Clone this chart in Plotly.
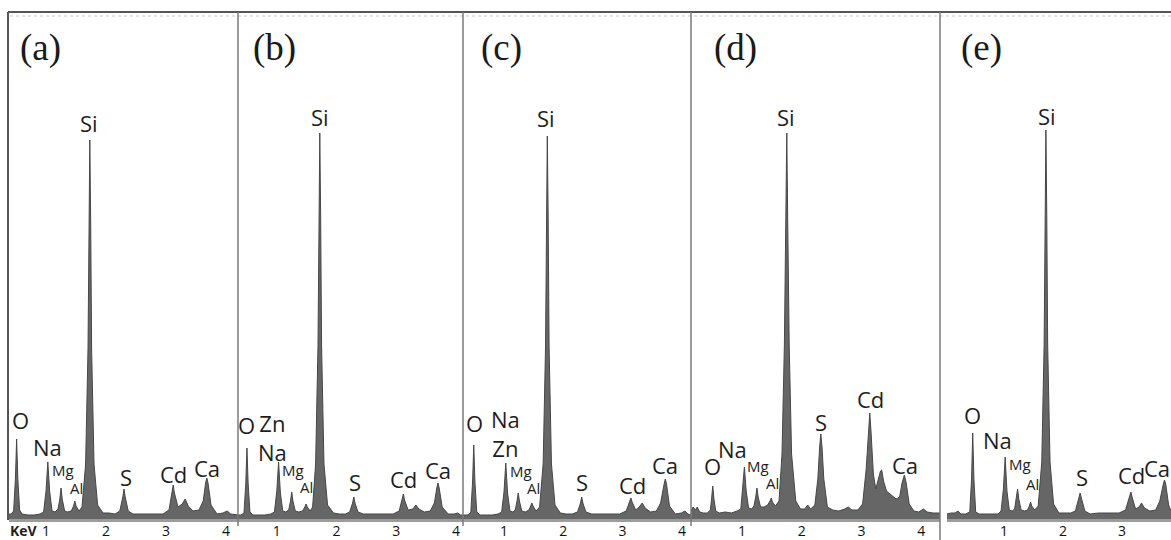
import plotly.graph_objects as go

W, H = 1171, 540

# ---- EDX spectra: energy (keV) and counts (a.u.) for samples (a)-(e) ----
energy_a = [0.383, 0.42, 0.46, 0.49, 0.51, 0.53, 0.56, 0.60, 0.70, 0.80, 0.90, 0.96, 1.00, 1.03, 1.06,
            1.10, 1.15, 1.20, 1.23, 1.25, 1.27, 1.31, 1.36, 1.42, 1.46, 1.48, 1.50, 1.55, 1.60, 1.66,
            1.70, 1.715, 1.73, 1.745, 1.76, 1.80, 1.86, 1.95, 2.05, 2.15, 2.23, 2.28, 2.30, 2.32, 2.37,
            2.45, 2.60, 2.80, 2.95, 3.05, 3.10, 3.12, 3.14, 3.20, 3.27, 3.32, 3.37, 3.45, 3.55, 3.62,
            3.66, 3.68, 3.70, 3.75, 3.85, 3.95, 4.02, 4.08, 4.20]
counts_a = [5, 5, 8, 40, 80, 40, 9, 5, 4, 4, 5, 7, 28, 57, 28,
            8, 7, 10, 20, 31, 20, 8, 7, 8, 13, 18, 13, 8, 12, 55,
            170, 295, 379, 295, 170, 55, 14, 6, 6, 5, 8, 22, 30, 22, 8,
            5, 5, 5, 5, 9, 26, 34, 26, 12, 15, 20, 13, 8, 9, 18,
            36, 41, 36, 14, 5, 6, 8, 5, 4]

energy_b = [0.35, 0.40, 0.45, 0.48, 0.50, 0.52, 0.55, 0.60, 0.70, 0.80, 0.90, 0.96, 1.00, 1.03, 1.06,
            1.10, 1.15, 1.20, 1.23, 1.25, 1.27, 1.31, 1.37, 1.43, 1.47, 1.49, 1.51, 1.56, 1.60, 1.65,
            1.69, 1.705, 1.72, 1.735, 1.75, 1.79, 1.85, 1.95, 2.05, 2.15, 2.22, 2.27, 2.29, 2.31, 2.36,
            2.45, 2.60, 2.80, 2.95, 3.05, 3.10, 3.12, 3.14, 3.20, 3.28, 3.33, 3.38, 3.47, 3.57, 3.64,
            3.68, 3.70, 3.72, 3.77, 3.87, 3.97, 4.03, 4.08, 4.12]
counts_b = [4, 4, 6, 35, 71, 35, 7, 4, 4, 4, 5, 7, 28, 57, 26,
            8, 7, 9, 18, 27, 18, 8, 7, 8, 12, 15, 12, 8, 12, 55,
            173, 300, 386, 300, 173, 55, 14, 6, 5, 5, 7, 16, 22, 16, 7,
            5, 5, 5, 5, 8, 19, 25, 19, 9, 10, 14, 10, 7, 8, 16,
            31, 36, 31, 12, 5, 5, 6, 4, 4]

energy_c = [0.31, 0.38, 0.44, 0.47, 0.49, 0.51, 0.54, 0.60, 0.70, 0.80, 0.90, 0.96, 1.00, 1.03, 1.06,
            1.10, 1.15, 1.19, 1.22, 1.24, 1.26, 1.30, 1.36, 1.42, 1.45, 1.47, 1.49, 1.54, 1.60, 1.66,
            1.70, 1.715, 1.73, 1.745, 1.76, 1.80, 1.86, 1.95, 2.05, 2.15, 2.24, 2.29, 2.31, 2.33, 2.38,
            2.48, 2.60, 2.80, 2.95, 3.06, 3.12, 3.14, 3.16, 3.22, 3.28, 3.33, 3.38, 3.47, 3.57, 3.64,
            3.70, 3.72, 3.74, 3.79, 3.89, 3.99, 4.05, 4.10, 4.16]
counts_c = [4, 4, 6, 37, 74, 37, 7, 4, 4, 4, 5, 7, 27, 56, 26,
            8, 7, 9, 18, 26, 18, 8, 7, 9, 13, 16, 13, 8, 12, 55,
            172, 298, 383, 298, 172, 55, 14, 6, 5, 5, 7, 16, 22, 16, 7,
            5, 5, 5, 5, 8, 17, 21, 17, 9, 12, 16, 11, 7, 8, 16,
            35, 40, 35, 13, 5, 6, 8, 5, 4]

energy_d = [0.146, 0.18, 0.22, 0.25, 0.29, 0.35, 0.42, 0.47, 0.49, 0.51, 0.53, 0.56, 0.62, 0.72, 0.82,
            0.92, 0.98, 1.01, 1.04, 1.07, 1.11, 1.16, 1.20, 1.23, 1.25, 1.27, 1.31, 1.37, 1.43, 1.47,
            1.49, 1.51, 1.56, 1.62, 1.67, 1.71, 1.735, 1.75, 1.765, 1.79, 1.83, 1.90, 1.98, 2.05, 2.10,
            2.15, 2.22, 2.27, 2.30, 2.32, 2.34, 2.37, 2.43, 2.52, 2.62, 2.72, 2.78, 2.84, 2.94, 3.02,
            3.08, 3.12, 3.14, 3.16, 3.20, 3.24, 3.28, 3.32, 3.34, 3.37, 3.42, 3.50, 3.58, 3.64, 3.68,
            3.72, 3.75, 3.80, 3.88, 3.96, 4.04, 4.10, 4.20, 4.32]
counts_d = [8, 12, 9, 12, 7, 6, 6, 9, 20, 33, 20, 8, 6, 7, 6,
            8, 10, 30, 52, 28, 11, 10, 13, 22, 31, 22, 12, 12, 14, 18,
            21, 17, 13, 18, 65, 175, 300, 386, 300, 175, 65, 18, 10, 10, 14,
            10, 14, 40, 72, 85, 72, 40, 12, 9, 8, 10, 12, 9, 9, 15,
            50, 88, 106, 88, 45, 30, 38, 48, 49, 38, 28, 24, 20, 22, 36,
            44, 36, 15, 8, 7, 10, 7, 6, 6]

energy_e = [0.034, 0.10, 0.17, 0.22, 0.27, 0.35, 0.42, 0.45, 0.47, 0.49, 0.52, 0.58, 0.70, 0.80, 0.90,
            0.95, 0.99, 1.02, 1.05, 1.09, 1.14, 1.18, 1.21, 1.23, 1.25, 1.29, 1.35, 1.40, 1.43, 1.45,
            1.47, 1.52, 1.58, 1.64, 1.68, 1.695, 1.71, 1.725, 1.74, 1.78, 1.84, 1.93, 2.03, 2.13, 2.21,
            2.26, 2.29, 2.32, 2.37, 2.46, 2.60, 2.80, 2.95, 3.06, 3.12, 3.15, 3.18, 3.23, 3.29, 3.33,
            3.38, 3.47, 3.57, 3.64, 3.70, 3.72, 3.74, 3.79, 3.83]
counts_e = [5, 6, 6, 8, 5, 5, 7, 40, 86, 40, 7, 5, 5, 5, 5,
            8, 30, 62, 28, 9, 8, 10, 20, 30, 20, 9, 8, 9, 13, 17,
            13, 9, 13, 57, 175, 302, 389, 302, 175, 57, 15, 6, 6, 6, 8,
            19, 26, 19, 8, 5, 6, 6, 6, 9, 21, 27, 20, 10, 12, 16,
            11, 8, 9, 18, 35, 39, 35, 14, 8]

# ---- peak labels: (text, energy keV, counts); stacked names share one label ----
labels_a = [("O", 0.567, 99), ("Na", 1.017, 72), ("Mg", 1.283, 49), ("Al", 1.50, 31),
            ("Si", 1.715, 396), ("S", 2.333, 42), ("Cd", 3.117, 45), ("Ca", 3.683, 51)]
labels_b = [("O", 0.497, 94), ("Zn<br>Na", 0.933, 82), ("Mg", 1.268, 49),
            ("Al", 1.503, 32), ("Si", 1.72, 402), ("S", 2.307, 37), ("Cd", 3.127, 40), ("Ca", 3.697, 49)]
labels_c = [("O", 0.511, 96), ("Na<br>Zn", 1.017, 86), ("Mg", 1.29, 48),
            ("Al", 1.489, 31), ("Si", 1.708, 401), ("S", 2.315, 37), ("Cd", 3.159, 34), ("Ca", 3.715, 54)]
labels_d = [("O", 0.514, 53), ("Na", 0.849, 70), ("Mg", 1.268, 53), ("Al", 1.503, 36),
            ("Si", 1.737, 402), ("S", 2.323, 97), ("Cd", 3.144, 120), ("Ca", 3.73, 54)]
labels_e = [("O", 0.458, 104), ("Na", 0.898, 79), ("Mg", 1.271, 55), ("Al", 1.475, 35),
            ("Si", 1.729, 403), ("S", 2.322, 42), ("Cd", 3.169, 44), ("Ca", 3.593, 51)]

panel_names = ["(a)", "(b)", "(c)", "(d)", "(e)"]
tick_values = [[1, 2, 3, 4], [1, 2, 3, 4], [1, 2, 3, 4], [1, 2, 3, 4], [1, 2, 3]]

# ---- layout geometry (pixels) ----
panel_px = [(9, 238), (238, 463), (463, 691), (691, 940), (947, 1171)]
energy_ranges = [(0.383, 4.20), (0.35, 4.119), (0.3086, 4.153), (0.1457, 4.316), (0.034, 3.83)]
title_px = [(40, 48), (274, 48), (501, 48), (735, 48), (981, 48)]
axis_py, top_py = 519, 12


def fx(px):
    return px / W


def fy(py):
    return 1 - py / H


spectra = [(energy_a, counts_a), (energy_b, counts_b), (energy_c, counts_c),
           (energy_d, counts_d), (energy_e, counts_e)]
labels = [labels_a, labels_b, labels_c, labels_d, labels_e]

FILL = "#666666"
LINE = "#474747"
SANS = "Open Sans, Noto Sans, sans-serif"
SERIF = "Liberation Serif, Times New Roman, serif"

fig = go.Figure()
annotations = []
layout_axes = {}

for i, (energy, counts) in enumerate(spectra):
    n = "" if i == 0 else str(i + 1)
    fig.add_trace(go.Scatter(
        x=energy, y=counts, mode="lines", fill="tozeroy",
        fillcolor=FILL, line=dict(color=LINE, width=1),
        xaxis="x" + n, yaxis="y" + n, showlegend=False, hoverinfo="x+y"))

    x0, x1 = panel_px[i]
    layout_axes["xaxis" + n] = dict(
        domain=[fx(x0), fx(x1)], range=list(energy_ranges[i]), anchor="y" + n,
        showgrid=False, zeroline=False, showline=True, linecolor="#9c9c9c", linewidth=3,
        tickvals=tick_values[i], ticktext=[str(v) for v in tick_values[i]],
        ticks="", ticklabelstandoff=-3,
        tickfont=dict(family=SANS, size=14, color="#111111"),
        automargin=False, fixedrange=True)
    layout_axes["yaxis" + n] = dict(
        domain=[fy(axis_py), fy(top_py)], range=[0, axis_py - top_py], anchor="x" + n,
        visible=False, fixedrange=True)

    for text, e, c in labels[i]:
        small = text in ("Mg", "Al")
        annotations.append(dict(
            x=e, y=c, xref="x" + n, yref="y" + n, text=text, showarrow=False,
            xanchor="center", yanchor="middle",
            font=dict(family=SANS, size=15 if small else 22, color="#1e1e1e")))

    tx, ty = title_px[i]
    annotations.append(dict(
        x=fx(tx), y=fy(ty), xref="paper", yref="paper", text=panel_names[i],
        showarrow=False, xanchor="center", yanchor="middle",
        font=dict(family=SERIF, size=37, color="#1a1a1a")))

annotations.append(dict(
    x=fx(24), y=fy(530), xref="paper", yref="paper", text="<b>KeV</b>", showarrow=False,
    xanchor="center", yanchor="middle", font=dict(family=SANS, size=14, color="#1e1e1e")))

# frame: top border, faint dotted inner line, left border, panel dividers
shapes = [
    dict(type="line", xref="paper", yref="paper", x0=fx(8), x1=1, y0=fy(12), y1=fy(12),
         line=dict(color="#555555", width=2)),
    dict(type="line", xref="paper", yref="paper", x0=fx(10), x1=1, y0=fy(16), y1=fy(16),
         line=dict(color="#c8c8c8", width=1, dash="dot")),
    dict(type="line", xref="paper", yref="paper", x0=fx(8), x1=fx(8), y0=fy(12), y1=fy(520),
         line=dict(color="#555555", width=2)),
]
for px, bottom in [(238, 526), (463, 526), (691, 526), (940, 540)]:
    shapes.append(dict(type="line", xref="paper", yref="paper", x0=fx(px), x1=fx(px),
                       y0=fy(12), y1=fy(bottom), line=dict(color="#7a7a7a", width=1.5)))

fig.update_layout(
    width=W, height=H, margin=dict(l=0, r=0, t=0, b=0),
    paper_bgcolor="white", plot_bgcolor="white",
    annotations=annotations, shapes=shapes, showlegend=False,
    **layout_axes)

fig.write_html("out.html")
